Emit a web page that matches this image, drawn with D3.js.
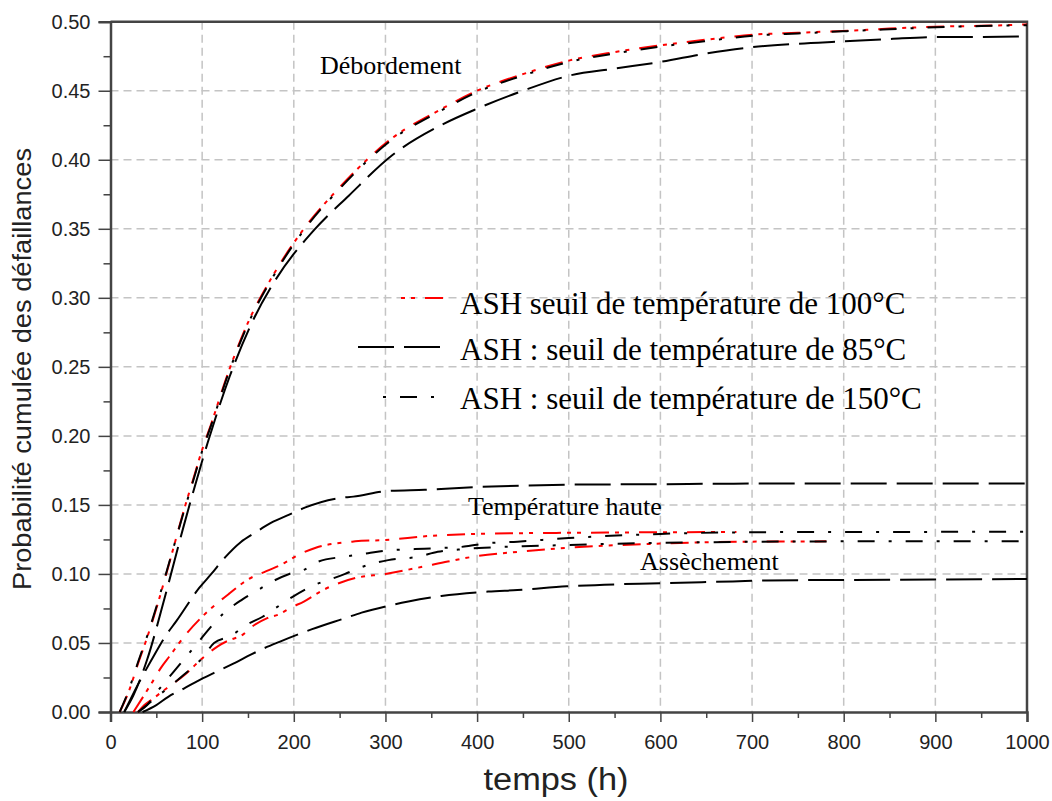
<!DOCTYPE html>
<html>
<head>
<meta charset="utf-8">
<script src="https://cdn.jsdelivr.net/npm/d3@7"></script>
<style>
  body { margin: 0; background: #fff; }
  svg { display: block; }
</style>
</head>
<body>
<div id="chart"></div>
<script>
// Values (t in hours, cumulative failure probability)
// Débordement
const debT100 = [10, 20, 30, 40, 50, 60, 70, 80, 90, 100, 110, 128, 150, 178, 211, 250, 308, 359, 400, 450, 501, 550, 601, 650, 701, 750, 799, 850, 900, 950, 1000];
const debV100 = [0, 0.015, 0.035, 0.054, 0.075, 0.098, 0.122, 0.146, 0.168, 0.190, 0.209, 0.245, 0.282, 0.317, 0.350, 0.380, 0.416, 0.436, 0.450, 0.462, 0.472, 0.478, 0.483, 0.487, 0.4906, 0.492, 0.4933, 0.495, 0.4964, 0.497, 0.498];
const debT150 = [10, 20, 30, 40, 50, 60, 70, 80, 90, 100, 110, 128, 150, 178, 211, 250, 308, 359, 400, 450, 501, 550, 601, 650, 701, 750, 799, 850, 900, 950, 1000];
const debV150 = [0, 0.016, 0.036, 0.055, 0.076, 0.099, 0.122, 0.145, 0.167, 0.189, 0.208, 0.244, 0.281, 0.316, 0.349, 0.379, 0.415, 0.435, 0.449, 0.461, 0.471, 0.477, 0.482, 0.486, 0.4898, 0.4915, 0.493, 0.4945, 0.496, 0.4968, 0.4975];
const debT85 = [15, 25, 40, 60, 80, 106, 130, 155, 180, 222, 260, 308, 359, 400, 450, 501, 550, 601, 650, 701, 750, 799, 850, 900, 950, 1000];
const debV85 = [0, 0.012, 0.038, 0.085, 0.135, 0.195, 0.243, 0.283, 0.313, 0.349, 0.374, 0.4036, 0.4245, 0.437, 0.450, 0.461, 0.466, 0.471, 0.477, 0.4816, 0.484, 0.4857, 0.4875, 0.4889, 0.489, 0.4894];

// Température haute
const thT85 = [15, 30, 45, 60, 72, 97, 110, 125, 142, 158, 175, 195, 212, 250, 265, 302, 343, 400, 450, 500, 600, 680, 800, 1000];
const thV85 = [0, 0.020, 0.038, 0.055, 0.066, 0.090, 0.100, 0.112, 0.123, 0.130, 0.137, 0.143, 0.148, 0.155, 0.156, 0.160, 0.161, 0.163, 0.164, 0.1647, 0.165, 0.1654, 0.1655, 0.1655];
const thT100 = [25, 37, 45, 55, 64, 82, 100, 115, 130, 150, 170, 190, 200, 224, 267, 300, 347, 397, 444, 500, 600, 683];
const thV100 = [0, 0.0125, 0.021, 0.032, 0.040, 0.056, 0.069, 0.078, 0.086, 0.096, 0.102, 0.108, 0.112, 0.119, 0.1236, 0.1246, 0.1275, 0.1290, 0.1295, 0.1298, 0.1302, 0.1304];
const thT150 = [30, 40, 50, 60, 80, 100, 110, 122, 144, 162, 178, 195, 211, 227, 256, 281, 303, 332, 354, 386, 408, 444, 500, 600, 700, 800, 1000];
const thV150 = [0, 0.005, 0.014, 0.022, 0.038, 0.054, 0.062, 0.0706, 0.0816, 0.0888, 0.095, 0.100, 0.103, 0.109, 0.1126, 0.115, 0.117, 0.118, 0.1186, 0.1198, 0.122, 0.1234, 0.126, 0.129, 0.1302, 0.1304, 0.1305];

// Assèchement
const asT85 = [35, 50, 63, 80, 101, 115, 134, 153, 167, 185, 204, 220, 256, 274, 307, 325, 361, 412, 444, 498, 607, 679, 716, 850, 1000];
const asV85 = [0, 0.005, 0.011, 0.017, 0.0245, 0.029, 0.035, 0.0415, 0.046, 0.051, 0.056, 0.060, 0.068, 0.072, 0.0775, 0.080, 0.084, 0.0872, 0.0884, 0.091, 0.0934, 0.0946, 0.0953, 0.0958, 0.0963];
const asT100 = [30, 37, 45, 61, 81, 102, 117, 131, 142, 157, 171, 185, 195, 211, 231, 267, 300, 339, 368, 397, 444, 500, 600, 700, 781];
const asV100 = [0, 0.005, 0.009, 0.017, 0.027, 0.040, 0.0476, 0.0524, 0.055, 0.063, 0.068, 0.071, 0.075, 0.080, 0.088, 0.097, 0.100, 0.105, 0.109, 0.1126, 0.116, 0.119, 0.122, 0.1234, 0.1236];
const asT150 = [30, 45, 60, 80, 100, 113, 131, 148, 166, 184, 200, 216, 256, 270, 303, 336, 357, 386, 408, 450, 500, 600, 700, 800, 1000];
const asV150 = [0, 0.008, 0.016, 0.027, 0.039, 0.050, 0.055, 0.063, 0.069, 0.077, 0.084, 0.090, 0.100, 0.104, 0.110, 0.1125, 0.116, 0.118, 0.119, 0.120, 0.121, 0.1225, 0.1233, 0.1236, 0.1237];

const xTicks = d3.range(0, 1001, 100);
const xMinor = d3.range(50, 1000, 100);
const yTicks = d3.range(0, 0.501, 0.05);
const yMinor = d3.range(0.025, 0.5, 0.05);

const legendLabels = [
    "ASH seuil de température de 100°C",
    "ASH : seuil de température de 85°C",
    "ASH : seuil de température de 150°C"
];

// line styles
const styles = {
    s100: {color: "#ff0000", dash: "18,6,4,6,4,10", legendOffset: 24},
    s85:  {color: "#000000", dash: "36,10", legendOffset: 0},
    s150: {color: "#000000", dash: "17,14,3,14", legendOffset: 31}
};

const series = [
    {t: debT100, v: debV100, style: "s100"},
    {t: thT100, v: thV100, style: "s100"},
    {t: asT100, v: asV100, style: "s100"},
    {t: debT85, v: debV85, style: "s85"},
    {t: thT85, v: thV85, style: "s85"},
    {t: asT85, v: asV85, style: "s85"},
    {t: debT150, v: debV150, style: "s150"},
    {t: thT150, v: thV150, style: "s150"},
    {t: asT150, v: asV150, style: "s150"}
];

const width = 1052;
const height = 801;
const plot = {left: 110.5, right: 1027, top: 21.7, bottom: 712};

const svg = d3.select("#chart")
    .append("svg")
        .attr("width", width)
        .attr("height", height);

const x = d3.scaleLinear().domain([0, 1000]).range([plot.left, plot.right]);
const y = d3.scaleLinear().domain([0, 0.5]).range([plot.bottom, plot.top]);

// Grid
const grid = svg.append("g")
    .attr("stroke", "#c4c4c4")
    .attr("stroke-width", 1.5)
    .attr("stroke-dasharray", "8,5");
grid.selectAll("line.v")
    .data(xTicks.slice(1, -1))
    .join("line")
        .attr("x1", d => x(d)).attr("x2", d => x(d))
        .attr("y1", plot.top).attr("y2", plot.bottom);
grid.selectAll("line.h")
    .data(yTicks.slice(1, -1))
    .join("line")
        .attr("class", "h")
        .attr("x1", plot.left).attr("x2", plot.right)
        .attr("y1", d => y(d)).attr("y2", d => y(d));

// Axes
const fontAxis = "Liberation Sans, Arial, sans-serif";
svg.append("g")
    .attr("transform", `translate(0, ${plot.bottom})`)
    .call(d3.axisBottom(x).tickValues(xTicks).tickSize(10).tickPadding(13).tickFormat(d3.format("d")));
svg.append("g")
    .attr("transform", `translate(0, ${plot.bottom})`)
    .call(d3.axisBottom(x).tickValues(xMinor).tickSize(6).tickFormat(""))
    .call(g => g.select(".domain").remove());
svg.append("g")
    .attr("transform", `translate(${plot.left}, 0)`)
    .call(d3.axisLeft(y).tickValues(yTicks).tickSize(12).tickPadding(8).tickFormat(d3.format(".2f")));
svg.append("g")
    .attr("transform", `translate(${plot.left}, 0)`)
    .call(d3.axisLeft(y).tickValues(yMinor).tickSize(7).tickFormat(""))
    .call(g => g.select(".domain").remove());

svg.selectAll(".tick line").attr("stroke", "#444").attr("stroke-width", 1.5);
svg.selectAll(".domain").attr("stroke", "#444").attr("stroke-width", 2.5);
svg.selectAll(".tick text")
    .attr("fill", "#222")
    .style("font-family", fontAxis)
    .style("font-size", "20px");

// top and right border
svg.append("path")
    .attr("d", `M${plot.left},${plot.top}H${plot.right}V${plot.bottom}`)
    .attr("fill", "none")
    .attr("stroke", "#444")
    .attr("stroke-width", 2.5);

// Curves
const line = d3.line()
    .x(d => x(d[0]))
    .y(d => y(d[1]))
    .curve(d3.curveMonotoneX);

const curves = svg.append("g")
    .attr("fill", "none")
    .attr("stroke-width", 2);
series.forEach(s => {
    const st = styles[s.style];
    curves.append("path")
        .datum(d3.zip(s.t, s.v))
        .attr("d", line)
        .attr("stroke", st.color)
        .attr("stroke-dasharray", st.dash);
});

// Annotations
const serif = "Liberation Serif, Times New Roman, serif";
const notes = [
    {text: "Débordement", x: 320, y: 74},
    {text: "Température haute", x: 468, y: 515},
    {text: "Assèchement", x: 640, y: 570}
];
svg.selectAll("text.note")
    .data(notes)
    .join("text")
        .attr("class", "note")
        .attr("x", d => d.x)
        .attr("y", d => d.y)
        .style("font-family", serif)
        .style("font-size", "26px")
        .text(d => d.text);

// Legend
const legendKeys = ["s100", "s85", "s150"];
const legendRows = [
    {lineY: 298, x1: 401, x2: 443, textY: 314},
    {lineY: 347, x1: 358, x2: 443, textY: 360},
    {lineY: 397, x1: 383, x2: 437, textY: 409}
];
const legend = svg.append("g");
legendKeys.forEach((k, i) => {
    const st = styles[k];
    const r = legendRows[i];
    legend.append("line")
        .attr("x1", r.x1).attr("x2", r.x2)
        .attr("y1", r.lineY).attr("y2", r.lineY)
        .attr("stroke", st.color)
        .attr("stroke-width", 2)
        .attr("stroke-dasharray", st.dash)
        .attr("stroke-dashoffset", st.legendOffset);
    legend.append("text")
        .attr("x", 460)
        .attr("y", r.textY)
        .style("font-family", serif)
        .style("font-size", "31px")
        .text(legendLabels[i]);
});

// Axis titles
svg.append("text")
    .attr("x", 556)
    .attr("y", 790)
    .attr("text-anchor", "middle")
    .attr("fill", "#222")
    .attr("textLength", 145)
    .attr("lengthAdjust", "spacingAndGlyphs")
    .style("font-family", fontAxis)
    .style("font-size", "31px")
    .text("temps (h)");

svg.append("text")
    .attr("transform", "translate(31, 369) rotate(-90)")
    .attr("text-anchor", "middle")
    .attr("fill", "#222")
    .attr("textLength", 442)
    .attr("lengthAdjust", "spacingAndGlyphs")
    .style("font-family", fontAxis)
    .style("font-size", "26px")
    .text("Probabilité cumulée des défaillances");
</script>
</body>
</html>
